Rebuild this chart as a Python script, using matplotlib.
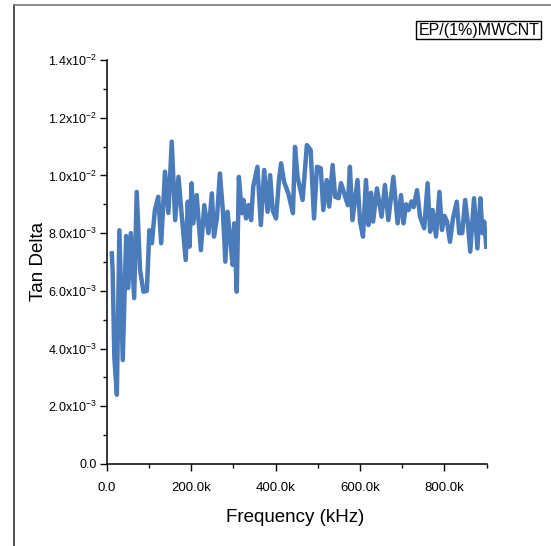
import numpy as np
import matplotlib.pyplot as plt
from matplotlib.lines import Line2D
from matplotlib.ticker import MultipleLocator

plt.rcParams['font.family'] = ['Liberation Sans', 'DejaVu Sans']
plt.rcParams['mathtext.fontset'] = 'custom'
plt.rcParams['mathtext.rm'] = 'Liberation Sans'
plt.rcParams['mathtext.it'] = 'Liberation Sans'

# frequency in kHz, tan delta in units of 1e-3
freq = [12, 14, 18, 24, 30, 38, 46, 51, 57, 65, 71, 79, 87, 95, 101, 107, 114, 122,
        129, 138, 146, 154, 162, 170, 176, 187, 192, 196, 201, 205, 213, 223, 231,
        241, 249, 254, 261, 268, 275, 281, 286, 292, 298, 302, 308, 313, 320, 324,
        330, 336, 342, 347, 357, 365, 373, 381, 387, 393, 401, 408, 413, 420, 430,
        441, 446, 452, 464, 474, 483, 491, 498, 507, 513, 521, 527, 535, 541, 549,
        555, 571, 576, 582, 594, 600, 607, 614, 620, 626, 631, 640, 651, 659, 667,
        679, 689, 697, 703, 709, 715, 722, 727, 735, 742, 752, 760, 766, 772, 780,
        788, 794, 800, 806, 813, 820, 829, 835, 842, 849, 855, 861, 870, 878, 885,
        890, 894, 899]
tand = [7.3, 6.7, 3.7, 2.4, 8.1, 3.6, 7.9, 6.1, 8.0, 5.75, 9.43, 6.72, 5.97, 6.0,
        8.1, 7.65, 8.8, 9.26, 7.65, 10.13, 8.7, 11.17, 8.45, 9.95, 8.9, 7.07, 9.09,
        7.53, 9.73, 8.34, 9.32, 7.41, 8.97, 8.0, 9.38, 7.88, 8.51, 10.07, 8.8, 7.01,
        8.74, 7.88, 6.9, 8.34, 5.97, 9.95, 8.69, 9.15, 8.51, 8.97, 8.45, 9.61, 10.3,
        8.28, 10.19, 8.74, 10.01, 8.8, 8.51, 9.84, 10.42, 9.78, 9.38, 8.69, 10.99,
        9.95, 9.15, 11.05, 10.88, 8.51, 10.3, 10.25, 8.8, 9.84, 8.92, 10.36, 9.26,
        9.21, 9.73, 8.97, 10.3, 8.45, 9.84, 8.4, 7.88, 9.84, 8.28, 9.4, 8.4, 9.55,
        8.57, 9.67, 8.45, 9.95, 8.34, 9.32, 8.34, 9.0, 8.8, 9.1, 8.9, 9.49, 8.57,
        8.17, 9.73, 8.05, 8.8, 7.88, 9.43, 8.11, 8.6, 8.4, 7.7, 8.5, 9.09, 8.0, 8.0,
        9.15, 8.4, 7.36, 9.21, 7.47, 9.21, 8.0, 8.4, 7.53]

yticks = [0, 0.002, 0.004, 0.006, 0.008, 0.010, 0.012, 0.014]
ylabels = ['0.0', r'2.0x10$^{-3}$', r'4.0x10$^{-3}$', r'6.0x10$^{-3}$',
           r'8.0x10$^{-3}$', r'1.0x10$^{-2}$', r'1.2x10$^{-2}$', r'1.4x10$^{-2}$']
xticks = [0, 200, 400, 600, 800]
xlabels = ['0.0', '200.0k', '400.0k', '600.0k', '800.0k']

fig = plt.figure(figsize=(5.51, 5.46), dpi=100)
ax = fig.add_axes([0.1937, 0.1502, 0.6896, 0.7399])

ax.plot(freq, np.array(tand) * 1e-3, color='#4a7bbb', lw=3.2, solid_joinstyle='round')

ax.set_xlim(0, 900)
ax.set_ylim(0, 0.014)
ax.set_xticks(xticks)
ax.set_xticklabels(xlabels)
ax.set_yticks(yticks)
ax.set_yticklabels(ylabels)
ax.xaxis.set_minor_locator(MultipleLocator(100))
ax.yaxis.set_minor_locator(MultipleLocator(0.001))
ax.tick_params(which='major', direction='out', length=5, width=1)
ax.tick_params(axis='x', which='major', pad=8, labelsize=9.5)
ax.tick_params(axis='y', which='major', pad=2, labelsize=9)
ax.tick_params(which='minor', direction='out', length=3, width=1)
for s in ['top', 'right']:
    ax.spines[s].set_visible(False)
for s in ['left', 'bottom']:
    ax.spines[s].set_linewidth(1.1)

ax.set_xlabel('Frequency (kHz)', fontsize=13.5)
ax.set_ylabel('Tan Delta', fontsize=13.5)
ax.xaxis.set_label_coords(0.497, -0.112)
ax.yaxis.set_label_coords(-0.158, 0.502)

fig.text(0.869, 0.945, 'EP/(1%)MWCNT', fontsize=11.5, ha='center', va='center',
         bbox=dict(boxstyle='square,pad=0.12', fc='white', ec='black', lw=1))

# partial frame around the picture
fig.add_artist(Line2D([0.025, 0.025], [0, 0.991], color='#333333', lw=1.2))
fig.add_artist(Line2D([0.025, 1.0], [0.991, 0.991], color='#777777', lw=1.2))

fig.savefig('out.png', dpi=100)
